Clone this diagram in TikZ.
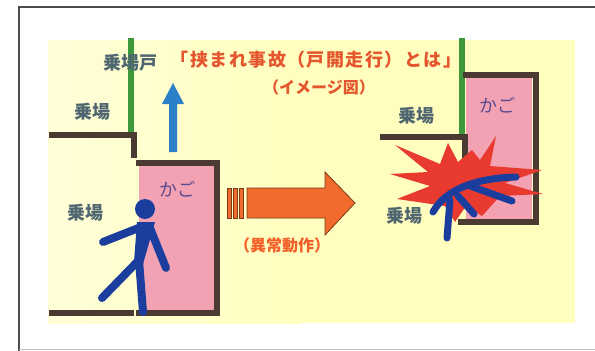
\documentclass[tikz,border=0pt]{standalone}
\usepackage{fontspec}
\newfontfamily\jp{Noto Sans CJK JP}
\usetikzlibrary{calc}
\definecolor{bgyellow}{HTML}{FFFEBE}
\definecolor{wallbrown}{HTML}{4A3A32}
\definecolor{doorgreen}{HTML}{3C9A3C}
\definecolor{carpink}{HTML}{F3A2B4}
\definecolor{personblue}{HTML}{1A3D9E}
\definecolor{upblue}{HTML}{2B80C8}
\definecolor{arroworange}{HTML}{F26A2C}
\definecolor{arrowedge}{HTML}{7A3A1A}
\definecolor{labelgray}{HTML}{4F6670}
\definecolor{titlered}{HTML}{E5562E}
\definecolor{carviolet}{HTML}{5B4A8C}
\definecolor{burstred}{HTML}{E83A2E}
\tikzset{
  wall/.style={draw=wallbrown,line width=6pt},
  door/.style={draw=doorgreen,line width=6pt},
  limb/.style={draw=personblue,line width=8pt,line cap=round},
  fallen/.style={draw=personblue,line width=7pt,line cap=round},
  hall/.style={font=\jp\bfseries\fontsize{18}{18}\selectfont,text=labelgray,inner sep=0pt},
  cartxt/.style={font=\jp\fontsize{18}{18}\selectfont,text=carviolet,inner sep=0pt},
  title/.style={font=\jp\bfseries\fontsize{18}{18}\selectfont,text=titlered,inner sep=0pt},
}
\begin{document}
\begin{tikzpicture}[x=1pt,y=-1pt]
\useasboundingbox (0,0) rectangle (595,351);
\fill[white] (0,0) rectangle (595,351);
% outer frame
\draw[line width=1.5pt,black!70] (19,351) -- (19,7) -- (595,7);
\draw[line width=0.8pt,black!25] (19,349) -- (595,349);
% paper background, paler towards the left
\shade[left color=bgyellow!60!white,right color=bgyellow] (48,40) rectangle (300,323);
\fill[bgyellow] (300,40) rectangle (575,323);

% ---- left scene: normal state ----
\fill[carpink] (139,165) rectangle (214,311);
\draw[door] (131,38) -- (131,133);
\draw[wall] (49,135) -- (134,135) -- (134,158);
\draw[wall] (136,163) -- (217,163) -- (217,313) -- (136,313);
\draw[wall] (49,313) -- (134,313);
\node[hall] (hallgate) at (130,63) {乗場戸};
\node[hall] (hallup) at (92,112) {乗場};
\node[hall] (halllow) at (85,213) {乗場};
\node[cartxt] (carL) at (177,189) {かご};

% upward car movement
\fill[upblue] (169,152) -- (169,104) -- (162,104) -- (173,83) -- (184,104) -- (177,104) -- (177,152) -- cycle;

% passenger stepping out
\coordinate (hipL) at (139,260);
\draw[limb] (141,227) -- (103,242);
\draw[limb] (150,228) -- (166,268);
\draw[limb] (hipL) -- (102,298);
\draw[limb] (hipL) -- (143,312);
\fill[personblue] (137,222) -- (155,222) -- (143,264) -- (134,262) -- cycle;
\fill[personblue] (145,209) circle (10);

% ---- abnormal movement arrow ----
\begin{scope}[draw=arrowedge,line width=0.8pt,fill=arroworange]
\filldraw (227,188) rectangle (231,218);
\filldraw (233,188) rectangle (237,218);
\filldraw (239,188) rectangle (243,218);
\filldraw (247,188) -- (325,188) -- (325,172) -- (355,203) -- (325,235) -- (325,218) -- (247,218) -- cycle;
\end{scope}
\node[font=\jp\bfseries\fontsize{16}{16}\selectfont,text=arroworange!90!red,inner sep=0pt] (abn) at (282,245) {（異常動作）};

% ---- title ----
\node[title] (t1) at (316,60) {\addfontfeatures{LetterSpace=8}「挟まれ事故（戸開走行）とは」};
\node[font=\jp\bfseries\fontsize{16}{16}\selectfont,text=titlered,inner sep=0pt] (t2) at (319,87) {（イメージ図）};

% ---- right scene: car moved up with doors open ----
\fill[carpink] (466,78) rectangle (532,219);
\draw[door] (462,38) -- (462,135);
\draw[wall] (380,137) -- (465,137) -- (465,160);
\draw[wall] (463,75) -- (536,75) -- (536,222) -- (458,222);
\node[hall] (hallR) at (416,116) {乗場};
\node[cartxt] (carR) at (497,105) {かご};

% impact burst
\fill[burstred] (395,145) -- (440,164) -- (448,143) -- (458,162) -- (472,150) -- (480,160) -- (496,136)
  -- (490,166) -- (542,170) -- (505,183) -- (543,194) -- (500,196) -- (482,216) -- (466,206)
  -- (455,222) -- (445,206) -- (397,199) -- (430,186) -- (390,174) -- (428,172) -- cycle;

% trapped passenger
\draw[fallen] (433,212) .. controls (445,190) and (475,178) .. (516,177);
\draw[fallen] (470,186) -- (512,201);
\draw[fallen] (458,196) -- (474,214);
\draw[fallen] (450,200) -- (447,238);
\node[hall] (hallRL) at (404,216) {乗場};
\end{tikzpicture}
\end{document}
